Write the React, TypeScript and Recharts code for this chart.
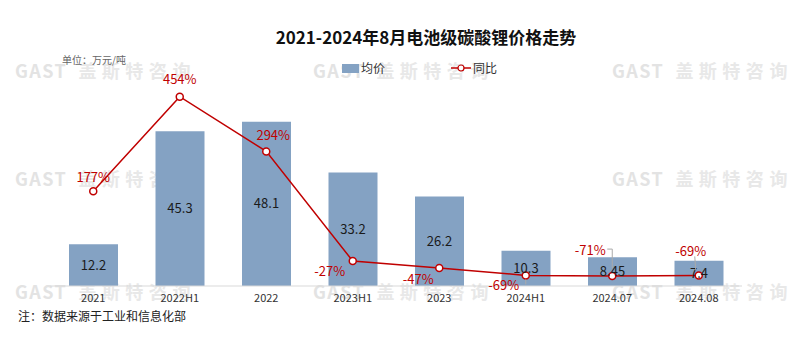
import { ComposedChart, Bar, Line, XAxis, YAxis, LabelList } from "recharts";

const periods = ["2021", "2022H1", "2022", "2023H1", "2023", "2024H1", "2024.07", "2024.08"];
const avgPrice = [12.2, 45.3, 48.1, 33.2, 26.2, 10.3, 8.45, 7.4];
const yoyPct = [177, 454, 294, -27, -47, -69, -71, -69];

const data = periods.map((p, i) => ({ period: p, price: avgPrice[i], yoy: yoyPct[i] }));

// label placement relative to each point (dx, dy)
const yoyOffsets = [
  [0, -15],
  [0, -18],
  [7, -17],
  [-23, 9],
  [-21, 11],
  [-22, 9],
  [-22, -27],
  [-8, -25],
];

const FONT = "'Noto Sans CJK SC', 'Noto Sans', sans-serif";
const RED = "#c00000";
const BLUE = "#84a2c3";

const watermarks = [
  [15, 57], [313, 57], [612, 57],
  [15, 165], [612, 165],
  [15, 278], [313, 278], [612, 278],
];

const YoyLabel = (props: any) => {
  const { x, y, value, index } = props;
  const off = yoyOffsets[index] || [0, -15];
  const lx = x + off[0];
  const ly = y + off[1];
  return (
    <g>
      {index === 5 && <line x1={x} x2={x} y1={y + 4} y2={y + 9} stroke="#aaa" strokeWidth={1} />}
      {index === 6 && (
        <polyline points={`${lx + 17},${ly} ${x},${ly} ${x},${y - 8}`} fill="none" stroke="#aaa" strokeWidth={1} />
      )}
      {index === 7 && (
        <line x1={lx + 4} x2={x - 3} y1={ly + 6} y2={y - 5} stroke="#aaa" strokeWidth={1} />
      )}
      <text x={lx} y={ly} textAnchor="middle" dominantBaseline="central" fill={RED} fontSize={13} fontFamily={FONT}>
        {value}%
      </text>
    </g>
  );
};

export default function App() {
  return (
    <div style={{ position: "absolute", left: 0, top: 0, width: 800, height: 344, background: "#fff", fontFamily: FONT, overflow: "hidden" }}>
      {watermarks.map(([x, y], i) => (
        <div
          key={i}
          style={{ position: "absolute", left: x, top: y, fontSize: 18, color: "#e3e3e3", whiteSpace: "nowrap" }}
        >
          <span style={{ fontWeight: 700, letterSpacing: 1.5 }}>GAST</span>
          <span style={{ fontWeight: 700, letterSpacing: 5.5, marginLeft: 11, color: "#e8e8e8" }}>盖斯特咨</span>
          <span style={{ fontWeight: 700, color: "#e8e8e8" }}>询</span>
        </div>
      ))}
      <div style={{ position: "absolute", left: 0, width: 852, top: 24, textAlign: "center", fontSize: 17, fontWeight: 700, color: "#111" }}>
        2021-2024年8月电池级碳酸锂价格走势
      </div>
      <div style={{ position: "absolute", left: 62, top: 52, fontSize: 10, color: "#666" }}>单位：万元/吨</div>

      {/* legend */}
      <svg style={{ position: "absolute", left: 342, top: 64 }} width={17} height={9}>
        <rect x={0} y={0} width={17} height={9} fill={BLUE} />
      </svg>
      <div style={{ position: "absolute", left: 361, top: 59, fontSize: 12, color: "#333" }}>均价</div>
      <svg style={{ position: "absolute", left: 451, top: 63 }} width={20} height={10}>
        <line x1={0} x2={20} y1={5} y2={5} stroke={RED} strokeWidth={1.5} />
        <circle cx={10} cy={5} r={3} fill="#fff" stroke={RED} strokeWidth={1.2} />
      </svg>
      <div style={{ position: "absolute", left: 473, top: 59, fontSize: 12, color: "#333" }}>同比</div>

      <div style={{ position: "absolute", left: 0, top: 0 }}>
        <ComposedChart width={800} height={344} data={data} margin={{ top: 81, right: 58, bottom: 28, left: 50 }}>
          <XAxis
            dataKey="period"
            tickLine={false}
            axisLine={{ stroke: "#d9d9d9" }}
            tick={{ fill: "#333", fontSize: 11, fontFamily: FONT }}
            height={30}
          />
          <YAxis yAxisId="left" hide domain={[0, 60]} />
          <YAxis yAxisId="right" orientation="right" hide domain={[-100, 500]} />
          <Bar yAxisId="left" dataKey="price" name="均价" fill={BLUE} barSize={49} isAnimationActive={false}>
            <LabelList dataKey="price" position="center" fill="#1a1a1a" fontSize={13} fontFamily={FONT} />
          </Bar>
          <Line
            yAxisId="right"
            dataKey="yoy"
            name="同比"
            stroke={RED}
            strokeWidth={1.5}
            dot={{ r: 3.5, fill: "#fff", stroke: RED, strokeWidth: 1.5 }}
            isAnimationActive={false}
          >
            <LabelList dataKey="yoy" content={YoyLabel} />
          </Line>
        </ComposedChart>
      </div>
      <div style={{ position: "absolute", left: 18, top: 307, fontSize: 12, color: "#222" }}>注：数据来源于工业和信息化部</div>
    </div>
  );
}
